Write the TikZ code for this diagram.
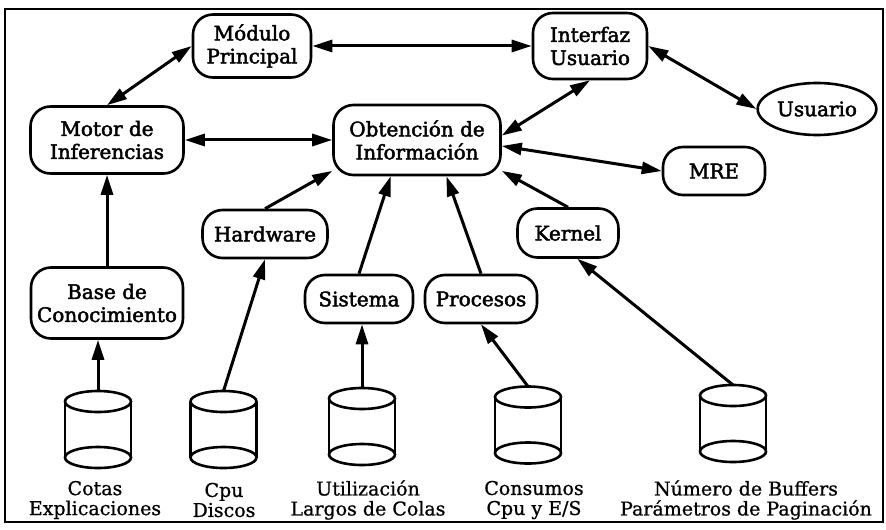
\documentclass[tikz,border=0pt]{standalone}
\usepackage{fontspec}
\setmainfont{DejaVu Serif}
\newfontfamily\cajafont[FakeBold=2.2]{DejaVu Serif}
\newfontfamily\rotulofont[FakeBold=0.8]{DejaVu Serif}
\usetikzlibrary{arrows.meta,shapes.geometric}

\begin{document}
\begin{tikzpicture}[
	x=0.5pt, y=-0.5pt,
	line width=1.3pt,
	Caja/.style={draw, rounded corners=10pt, align=center, inner sep=1pt,
		font=\fontsize{10}{11.5}\selectfont\cajafont},
	Elipse/.style={draw, ellipse, inner sep=1pt,
		font=\fontsize{10}{11.5}\selectfont\cajafont},
	Disco/.style={minimum width=33pt, minimum height=38.5pt,
		inner sep=0pt, outer sep=0pt},
	Rotulo/.style={align=center, inner sep=0pt,
		font=\fontsize{9.5}{10}\selectfont\rotulofont},
	Doble/.style={{Triangle[length=10pt,width=6pt]}-{Triangle[length=10pt,width=6pt]},
		line width=1.5pt},
	Simple/.style={-{Triangle[length=10pt,width=6pt]}, line width=1.5pt},
	]
	\useasboundingbox (0,0) rectangle (886,529);
	\draw [line width=1.4pt] (5,9) rectangle (883,522);
	
	\node [Caja, minimum width=59pt, minimum height=31.5pt] (modulo) at (252,46) {Módulo\\Principal};
	\node [Caja, minimum width=57pt, minimum height=33pt] (interfaz) at (590,46) {Interfaz\\Usuario};
	\node [Elipse, minimum width=55.5pt, minimum height=26pt] (usuario) at (817,109) {Usuario};
	
	\node [Caja, minimum width=76.5pt, minimum height=33.5pt] (motor) at (107,140) {Motor de\\Inferencias};
	\node [Caja, minimum width=83.5pt, minimum height=35pt] (obtencion) at (417,140) {Obtención de\\Información};
	\node [Caja, minimum width=51pt, minimum height=24pt] (mre) at (714,171) {MRE};
	
	\node [Caja, minimum width=62.5pt, minimum height=24pt] (hardware) at (265,234) {Hardware};
	\node [Caja, minimum width=50.5pt, minimum height=24.5pt] (kernel) at (568,233) {Kernel};
	\node [Caja, minimum width=76pt, minimum height=35.5pt] (base) at (107,303) {Base de\\Conocimiento};
	\node [Caja, minimum width=54pt, minimum height=24pt] (sistema) at (359,299) {Sistema};
	\node [Caja, minimum width=56pt, minimum height=24pt] (procesos) at (481,299) {Procesos};
	
	% discos
	\node [Disco] (dcotas) at (98,429.5) {};
	\node [Disco] (dcpu) at (223.5,429.5) {};
	\node [Disco] (dutil) at (362,426.5) {};
	\node [Disco] (dcons) at (528,425) {};
	\node [Disco] (dnum) at (733,423.5) {};
	\foreach \d in {dcotas,dcpu,dutil,dcons,dnum}{
		\draw ([yshift=-5.25pt]\d.north) ellipse [x radius=16.5pt, y radius=5.25pt];
		\draw ([yshift=5.25pt]\d.south) ellipse [x radius=16.5pt, y radius=5.25pt];
		\draw ([yshift=-5.25pt]\d.north west) -- ([yshift=5.25pt]\d.south west);
		\draw ([yshift=-5.25pt]\d.north east) -- ([yshift=5.25pt]\d.south east);
	}
	
	\node [Rotulo] (lcotas) at (95,500) {Cotas\\Explicaciones};
	\node [Rotulo] (lcpu) at (224,500) {Cpu\\Discos};
	\node [Rotulo] (lutil) at (368,500) {Utilización\\Largos de Colas};
	\node [Rotulo] (lcons) at (534,500) {Consumos\\Cpu y E/S};
	\node [Rotulo] (lnum) at (746,500) {Número de Buffers\\Parámetros de Paginación};
	
	\draw [Doble] (motor.north) -- (modulo.west);
	\draw [Doble] (modulo.east) -- (interfaz.west);
	\draw [Doble] (interfaz.east) -- (usuario.west);
	\draw [Doble] (interfaz.south) -- (obtencion.3);
	\draw [Doble] (motor.east) -- (obtencion.west);
	\draw [Doble] (obtencion.-4) -- (mre.west);
	
	\draw [Simple] (hardware.north) -- (obtencion.200);
	\draw [Simple] (sistema.north) -- (obtencion.234);
	\draw [Simple] (procesos.north) -- (obtencion.-51);
	\draw [Simple] (kernel.north) -- (obtencion.-20);
	\draw [Simple] (base.north) -- (motor.south);
	
	\draw [Simple] (dcotas.north) -- (dcotas.north |- base.south);
	\draw [Simple] (dcpu.north) -- (hardware.south);
	\draw [Simple] (dutil.north) -- (dutil.north |- sistema.south);
	\draw [Simple] (dcons.north) -- (procesos.south);
	\draw [Simple] (dnum.north) -- (kernel.-70);
	%\draw [Simple] (dnum.north) -- (kernel.south);
\end{tikzpicture}
\end{document}
